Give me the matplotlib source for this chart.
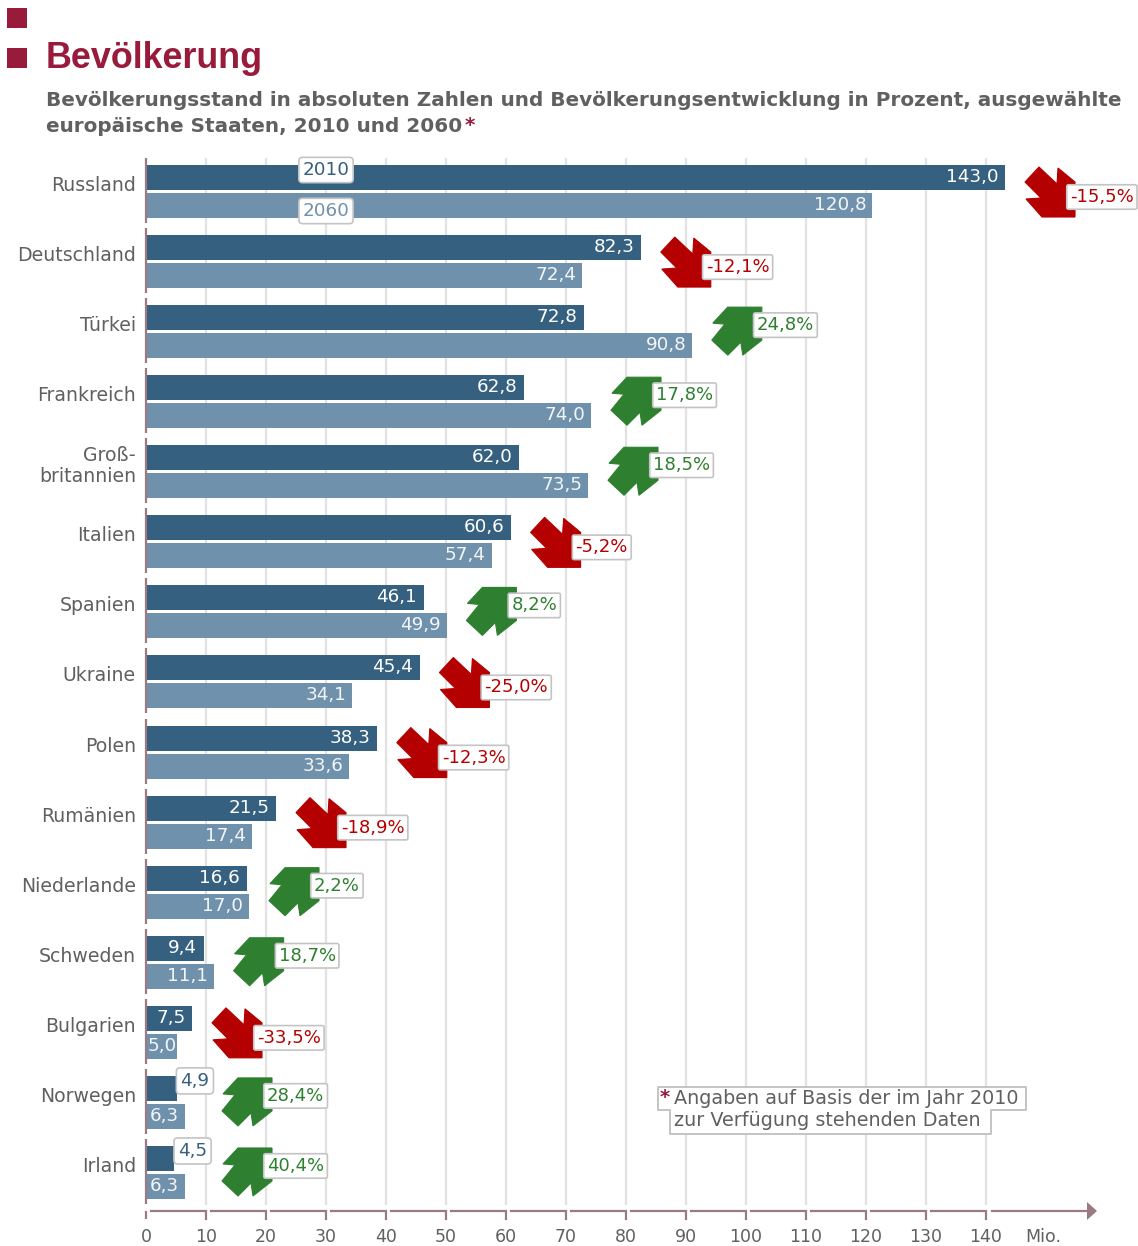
import matplotlib
matplotlib.use('Agg')
import matplotlib.pyplot as plt
from matplotlib.patches import Polygon, Rectangle

# Data
countries = ['Russland', 'Deutschland', 'Türkei', 'Frankreich', 'Groß-\nbritannien', 'Italien', 'Spanien',
             'Ukraine', 'Polen', 'Rumänien', 'Niederlande', 'Schweden', 'Bulgarien', 'Norwegen', 'Irland']
pop_2010 = [143.0, 82.3, 72.8, 62.8, 62.0, 60.6, 46.1, 45.4, 38.3, 21.5, 16.6, 9.4, 7.5, 4.9, 4.5]
pop_2060 = [120.8, 72.4, 90.8, 74.0, 73.5, 57.4, 49.9, 34.1, 33.6, 17.4, 17.0, 11.1, 5.0, 6.3, 6.3]
change = [-15.5, -12.1, 24.8, 17.8, 18.5, -5.2, 8.2, -25.0, -12.3, -18.9, 2.2, 18.7, -33.5, 28.4, 40.4]
x_ticks = [0, 10, 20, 30, 40, 50, 60, 70, 80, 90, 100, 110, 120, 130, 140]

DARK = '#35607f'
LIGHT = '#7091ac'
MAUVE = '#9a7b82'
GRID = '#e2e2e2'
TEXT = '#606060'
WINE = '#981b3c'
RED = '#b40000'
GREEN = '#2e8030'
EDGE = '#c4c4c4'

X0 = 146
PX = 6.0
ROW = 70.07
BAR_LEFT = 1.5 / PX


def px(x):
    return (x - X0) / PX


# Arrow outlines in pixels, relative to the arrow's upper left corner
up_shape = [(16, 0), (1, 16), (13, 17), (0, 33), (16, 48), (29, 35), (31, 48), (50, 33), (50, 0)]
down_shape = [(14, 0), (0, 15), (16, 31), (1, 32), (17, 50), (50, 50), (50, 15), (33, 1), (32, 17)]

fig = plt.figure(figsize=(11.38, 12.46), dpi=100)
ax = fig.add_axes([0, 0, 1, 1])
ax.set_xlim(px(0), px(1138))
ax.set_ylim(1246, 0)
ax.axis('off')
plt.rcParams['font.family'] = 'DejaVu Sans'

# Header
ax.add_patch(Rectangle((px(7), 8), 20 / PX, 20, color=WINE, lw=0))
ax.add_patch(Rectangle((px(7), 48), 20 / PX, 20, color=WINE, lw=0))
ax.text(px(46), 58, 'Bevölkerung', family='Liberation Sans', weight='bold', fontsize=25.8, color=WINE, va='center')
ax.text(px(46), 100, 'Bevölkerungsstand in absoluten Zahlen und Bevölkerungsentwicklung in Prozent, ausgewählte',
        weight='bold', fontsize=14.4, color=TEXT, va='center')
ax.text(px(46), 126, 'europäische Staaten, 2010 und 2060', weight='bold', fontsize=14.4, color=TEXT, va='center')
ax.text(px(465), 126, '*', weight='bold', fontsize=14.4, color=WINE, va='center')

# Grid and axes
for t in x_ticks[1:]:
    ax.plot([t, t], [158, 1205], color=GRID, lw=1.6, zorder=1, solid_capstyle='butt')
    ax.plot([t - 55 / PX, t, t], [1211, 1211, 1219], color=MAUVE, lw=1.6, zorder=2, solid_joinstyle='miter')
ax.plot([0, 0], [1211, 1219], color=MAUVE, lw=1.6, solid_capstyle='butt')
ax.plot([px(992), px(1090)], [1211, 1211], color=MAUVE, lw=1.6)
ax.add_patch(Polygon([(px(1087), 1202), (px(1097), 1211), (px(1087), 1220)], color=MAUVE, lw=0))
for t in x_ticks:
    ax.text(t, 1237, str(t), ha='center', va='center', fontsize=12.5, color=TEXT)
ax.text(px(1025), 1237, 'Mio.', ha='left', va='center', fontsize=12.5, color=TEXT)

# Rows
for i, name in enumerate(countries):
    top = 165 + ROW * i
    a, b = pop_2010[i], pop_2060[i]
    ax.plot([0, 0], [top - 7, top + 58], color=MAUVE, lw=1.6, zorder=4, solid_capstyle='butt')
    ax.barh(top + 12.5, a, left=BAR_LEFT, height=25, color=DARK, zorder=3)
    ax.barh(top + 40.5, b, left=BAR_LEFT, height=25, color=LIGHT, zorder=3)
    ax.text(px(136), top + 20.5, name, ha='right', va='center', fontsize=13.6, color=TEXT, linespacing=1.15)

    la, lb = f'{a:.1f}'.replace('.', ','), f'{b:.1f}'.replace('.', ',')
    if a < 5:
        # too short for the number, it goes in a box next to the bar
        ax.text(a + 5 / PX, top + 5, la, ha='left', va='center', fontsize=13.2, color=DARK, zorder=6,
                bbox=dict(boxstyle='round,pad=0.22,rounding_size=0.2', fc='white', ec=EDGE, lw=1.2))
        arrow_x = px(222)
    else:
        ax.text(a + BAR_LEFT - 7 / PX, top + 12, la, ha='right', va='center', fontsize=13.2, color='white', zorder=6)
        arrow_x = max(a, b) + 21 / PX
    # the 5,0 label only just fits, so it sits closer to the bar end
    end_gap = 1 if b < 6 else 6
    ax.text(b + BAR_LEFT - end_gap / PX, top + 40, lb, ha='right', va='center', fontsize=13.2, color='#f2f5f8',
            zorder=6)

    shape = up_shape if change[i] > 0 else down_shape
    col = GREEN if change[i] > 0 else RED
    y0 = top + 2
    ax.add_patch(Polygon([(arrow_x + sx / PX, y0 + sy) for sx, sy in shape], closed=True, fc=col, ec=col,
                         lw=0.8, zorder=5))
    label = f'{change[i]:.1f}'.replace('.', ',') + '%'
    ly = top + 20 if change[i] > 0 else top + 32
    ax.text(arrow_x + 45 / PX, ly, label, ha='left', va='center', fontsize=13, color=col, zorder=7,
            bbox=dict(boxstyle='round,pad=0.18,rounding_size=0.1', fc='white', ec=EDGE, lw=1.2))

# Series tags on the first row
for year, y, col in [('2010', 170, DARK), ('2060', 211, LIGHT)]:
    ax.text(px(326), y, year, ha='center', va='center', fontsize=13.2, color=col, zorder=7,
            bbox=dict(boxstyle='round,pad=0.2,rounding_size=0.2', fc='white', ec=EDGE, lw=1.2))

# Footnote
note_x = [658, 1026, 1026, 991, 991, 670, 670, 658]
note_y = [1087, 1087, 1110, 1110, 1134, 1134, 1110, 1110]
ax.add_patch(Polygon([(px(x), y) for x, y in zip(note_x, note_y)], closed=True, fc='white', ec=EDGE, lw=1.4,
                     joinstyle='round', zorder=6))
ax.text(px(660), 1098, '*', fontsize=14, weight='bold', color=WINE, va='center', zorder=7)
ax.text(px(674), 1099, 'Angaben auf Basis der im Jahr 2010', fontsize=13.8, color=TEXT, va='center', zorder=7)
ax.text(px(674), 1120, 'zur Verfügung stehenden Daten', fontsize=13.8, color=TEXT, va='center', zorder=7)

fig.savefig('out.png', dpi=100, facecolor='white')
